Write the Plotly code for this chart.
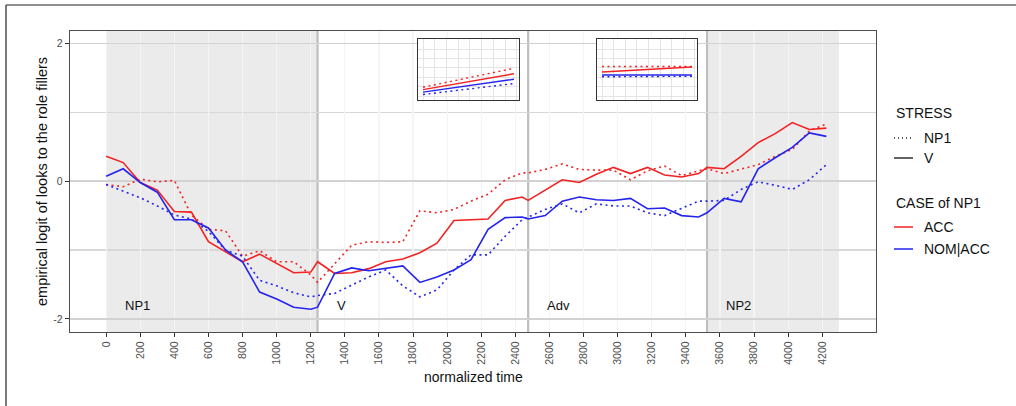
import plotly.graph_objects as go

# ---------------- data ----------------
time_np1 = [0, 100, 200, 300, 400, 500, 600, 700, 800, 900, 1000, 1100, 1200, 1240]
time_v = [1340, 1440, 1540, 1640, 1740, 1840, 1940, 2040, 2140, 2240, 2340, 2440, 2475]
time_adv = [2575, 2675, 2775, 2875, 2975, 3075, 3175, 3275, 3375, 3475, 3524]
time_np2 = [3624, 3724, 3824, 3924, 4024, 4124, 4224]
time_all = time_np1 + time_v + time_adv + time_np2

acc_v = [0.36, 0.27, -0.02, -0.13, -0.44, -0.45, -0.88, -1.02, -1.17, -1.06, -1.19, -1.33, -1.32, -1.17,
         -1.34, -1.33, -1.27, -1.17, -1.13, -1.04, -0.90, -0.57, -0.56, -0.55, -0.28, -0.23, -0.28,
         -0.13, 0.02, -0.02, 0.10, 0.20, 0.11, 0.20, 0.09, 0.06, 0.11, 0.20,
         0.18, 0.36, 0.56, 0.69, 0.85, 0.75, 0.77]
nom_v = [0.07, 0.18, -0.02, -0.16, -0.56, -0.56, -0.68, -1.00, -1.17, -1.61, -1.71, -1.83, -1.86, -1.83,
         -1.34, -1.26, -1.30, -1.27, -1.23, -1.47, -1.39, -1.29, -1.14, -0.70, -0.53, -0.52, -0.55,
         -0.50, -0.29, -0.23, -0.27, -0.28, -0.25, -0.40, -0.39, -0.50, -0.52, -0.46,
         -0.25, -0.30, 0.18, 0.34, 0.49, 0.70, 0.65]
acc_np1 = [-0.05, -0.08, 0.03, -0.01, 0.01, -0.49, -0.70, -0.72, -1.09, -1.01, -1.17, -1.17, -1.36, -1.47,
           -1.20, -0.93, -0.88, -0.89, -0.88, -0.43, -0.46, -0.41, -0.29, -0.19, 0.02, 0.12, 0.12,
           0.17, 0.25, 0.17, 0.16, 0.16, 0.02, 0.15, 0.22, 0.08, 0.15, 0.18,
           0.11, 0.17, 0.24, 0.36, 0.46, 0.73, 0.83]
nom_np1 = [-0.05, -0.15, -0.24, -0.36, -0.49, -0.55, -0.73, -1.00, -1.09, -1.44, -1.52, -1.62, -1.68, -1.66,
           -1.63, -1.51, -1.39, -1.29, -1.52, -1.68, -1.58, -1.29, -1.07, -1.07, -0.80, -0.56, -0.52,
           -0.41, -0.33, -0.46, -0.33, -0.36, -0.36, -0.46, -0.50, -0.39, -0.29, -0.29,
           -0.28, -0.12, -0.01, -0.06, -0.12, 0.02, 0.24]

region_labels = ["NP1", "V", "Adv", "NP2"]
region_starts = [0, 1240, 2475, 3524]
shaded_regions = [(0, 1240), (3524, 4298)]
label_y = -1.8

x_ticks = list(range(0, 4201, 200))
y_ticks = [-2, 0, 2]
y_ticklabels = ["-2", "0", "2"]

# inset panels (normalized coordinates inside each inset)
inset_x = [0.05, 0.95]
inset1 = {"acc_np1": [0.21, 0.52], "acc_v": [0.17, 0.43], "nom_v": [0.13, 0.34], "nom_np1": [0.09, 0.27]}
inset2 = {"acc_np1": [0.55, 0.55], "acc_v": [0.46, 0.54], "nom_v": [0.41, 0.41], "nom_np1": [0.38, 0.39]}

stress_levels = ["NP1", "V"]
case_levels = ["ACC", "NOM|ACC"]

RED = "#F22222"
BLUE = "#2424EE"
DOT = "2px,3.5px"
FONT = "Liberation Sans, Arial, sans-serif"

series = [
    ("acc_np1", acc_np1, RED, DOT),
    ("nom_np1", nom_np1, BLUE, DOT),
    ("acc_v", acc_v, RED, "solid"),
    ("nom_v", nom_v, BLUE, "solid"),
]

fig = go.Figure()
for key, ys, col, dash in series:
    fig.add_trace(go.Scatter(x=time_all, y=ys, mode="lines", showlegend=False, hoverinfo="skip",
                             line=dict(color=col, width=1.6, dash=dash), xaxis="x", yaxis="y"))

for ax_i, inset in ((2, inset1), (3, inset2)):
    for key, ys, col, dash in series:
        fig.add_trace(go.Scatter(x=inset_x, y=inset[key], mode="lines", showlegend=False,
                                 hoverinfo="skip",
                                 line=dict(color=col, width=1.4, dash=dash),
                                 xaxis=f"x{ax_i}", yaxis=f"y{ax_i}"))

# geometry helpers (pixel -> paper)
L, R, T, B = 70, 876, 31, 332
W, H = 1016, 406
def px(x):
    return (x - L) / (R - L)
def py(y):
    return (B - y) / (B - T)

shapes = []
for x0, x1 in shaded_regions:
    shapes.append(dict(type="rect", xref="x", yref="paper", x0=x0, x1=x1, y0=0, y1=1,
                       fillcolor="#EBEBEB", line=dict(width=0), layer="below"))
for xs in region_starts[1:]:
    shapes.append(dict(type="line", xref="x", yref="paper", x0=xs, x1=xs, y0=0, y1=1,
                       line=dict(color="#BEBEBE", width=2.2), layer="between"))

# inset white backgrounds
for ax_i in (2, 3):
    shapes.append(dict(type="rect", xref=f"x{ax_i} domain", yref=f"y{ax_i} domain",
                       x0=0, x1=1, y0=0, y1=1, fillcolor="white", line=dict(width=0), layer="below"))

# outer frame (top and left)
shapes.append(dict(type="line", xref="paper", yref="paper", x0=px(6), x1=px(W), y0=py(5), y1=py(5),
                   line=dict(color="#222222", width=1.2)))
shapes.append(dict(type="line", xref="paper", yref="paper", x0=px(6), x1=px(6), y0=py(5), y1=py(H),
                   line=dict(color="#222222", width=1.2)))

annotations = []
for lab, xs in zip(region_labels, region_starts):
    annotations.append(dict(x=xs + 100, y=label_y, xref="x", yref="y", text=lab, showarrow=False,
                            xanchor="left", yanchor="middle", font=dict(size=13, color="#111111")))

annotations.append(dict(x=px(473), y=py(377), xref="paper", yref="paper", text="normalized time",
                        showarrow=False, xanchor="center", yanchor="middle",
                        font=dict(size=14, color="#111111")))
annotations.append(dict(x=px(42), y=py(182), xref="paper", yref="paper",
                        text="empirical logit of looks to the role fillers", textangle=-90,
                        showarrow=False, xanchor="center", yanchor="middle",
                        font=dict(size=14.5, color="#111111")))

# manual legend
leg_x0, leg_x1, leg_tx = 894, 913, 922
LEGF = dict(size=14, color="#111111")
annotations.append(dict(x=px(leg_x0), y=py(113), xref="paper", yref="paper", text="STRESS",
                        showarrow=False, xanchor="left", yanchor="middle", font=LEGF))
for lab, yy, dash in zip(stress_levels, [138, 158], ["1px,3px", "solid"]):
    shapes.append(dict(type="line", xref="paper", yref="paper", x0=px(leg_x0), x1=px(leg_x1),
                       y0=py(yy), y1=py(yy), line=dict(color="#222222", width=1.4, dash=dash)))
    annotations.append(dict(x=px(leg_tx), y=py(yy), xref="paper", yref="paper", text=lab,
                            showarrow=False, xanchor="left", yanchor="middle", font=LEGF))
annotations.append(dict(x=px(leg_x0), y=py(203), xref="paper", yref="paper", text="CASE of NP1",
                        showarrow=False, xanchor="left", yanchor="middle", font=LEGF))
for lab, yy, col in zip(case_levels, [227, 249], [RED, BLUE]):
    shapes.append(dict(type="line", xref="paper", yref="paper", x0=px(leg_x0), x1=px(leg_x1),
                       y0=py(yy), y1=py(yy), line=dict(color=col, width=1.5)))
    annotations.append(dict(x=px(leg_tx), y=py(yy), xref="paper", yref="paper", text=lab,
                            showarrow=False, xanchor="left", yanchor="middle", font=LEGF))

inset_common = dict(showticklabels=False, ticks="", showline=True, mirror=True,
                    linecolor="#333333", linewidth=1.3, gridcolor="#E4E4E4", gridwidth=1,
                    zeroline=False, range=[0, 1], fixedrange=True)

fig.update_layout(
    width=W, height=H,
    margin=dict(l=L, r=W - R, t=T, b=H - B),
    paper_bgcolor="white", plot_bgcolor="white",
    font=dict(family=FONT, size=10.5, color="#4D4D4D"),
    showlegend=False,
    hovermode=False,
    xaxis=dict(range=[-212, 4515], tickvals=x_ticks, ticktext=[str(v) for v in x_ticks],
               tickangle=-90, ticks="outside", ticklen=4, tickcolor="#333333",
               tickfont=dict(size=10.5, color="#4D4D4D"),
               showgrid=True, gridcolor="#F4F4F4", gridwidth=1.2,
               showline=True, mirror=True, linecolor="#4D4D4D", linewidth=1.2, zeroline=False),
    yaxis=dict(range=[-2.19, 2.18], tickvals=y_ticks, ticktext=y_ticklabels,
               ticks="outside", ticklen=4, tickcolor="#333333",
               tickfont=dict(size=10.5, color="#4D4D4D"),
               showgrid=True, gridcolor="#D2D2D2", gridwidth=1.5,
               minor=dict(dtick=1, showgrid=True, gridcolor="#D8D8D8", gridwidth=1.3, ticks=""),
               showline=True, mirror=True, linecolor="#4D4D4D", linewidth=1.2, zeroline=False),
    xaxis2=dict(domain=[px(418), px(519)], anchor="y2", tick0=0.05, dtick=0.116, **inset_common),
    yaxis2=dict(domain=[py(100), py(39)], anchor="x2", tick0=0.06, dtick=0.155, **inset_common),
    xaxis3=dict(domain=[px(597), px(697)], anchor="y3", tick0=0.05, dtick=0.116, **inset_common),
    yaxis3=dict(domain=[py(100), py(39)], anchor="x3", tick0=0.06, dtick=0.155, **inset_common),
    shapes=shapes,
    annotations=annotations,
)

fig.write_html("out.html", config={"displayModeBar": False, "staticPlot": True},
               post_script="document.body.style.margin='0';")
